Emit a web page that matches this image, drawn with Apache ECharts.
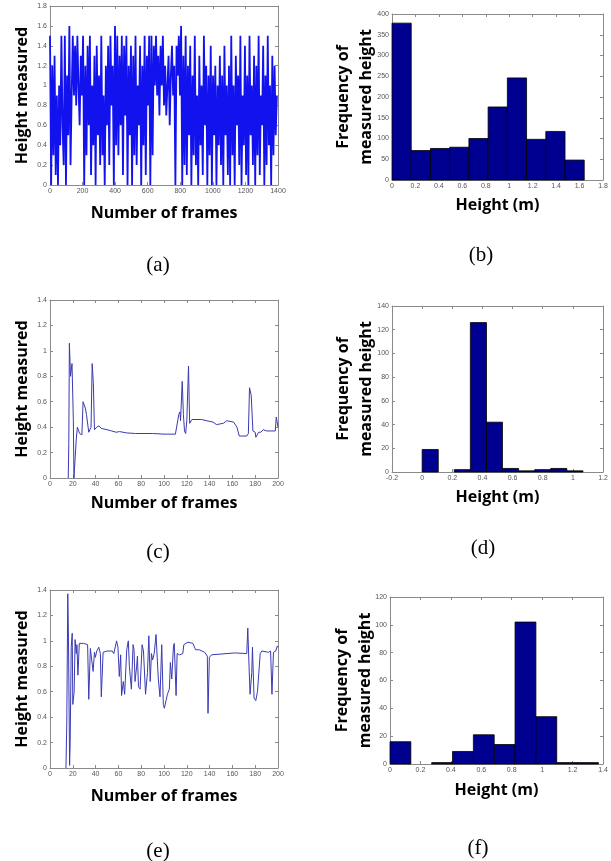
<!DOCTYPE html>
<html>
<head>
<meta charset="utf-8">
<script src="https://cdn.jsdelivr.net/npm/echarts@6/dist/echarts.min.js"></script>
<style>
  html, body { margin: 0; padding: 0; background: #fff; }
  #main { width: 611px; height: 861px; }
</style>
</head>
<body>
<div id="main"></div>
<script>
// (a) height measured over 1400 frames, one reading every stepA frames
const stepA = 7
const heightA = [
  1.5, 0.0, 1.2, 0.3, 1.3, 0.1, 0.9, 0.0, 1.0, 0.4,
  1.5, 0.6, 0.2, 1.5, 0.0, 1.1, 0.5, 1.6, 0.2, 0.9,
  1.5, 0.9, 1.4, 0.8, 1.5, 1.0, 0.6, 1.3, 0.9, 1.5,
  0.0, 1.2, 0.3, 1.4, 0.6, 1.5, 0.1, 1.0, 0.4, 1.3,
  0.0, 1.4, 0.5, 1.1, 0.2, 1.5, 0.3, 0.9, 0.0, 1.2,
  0.6, 1.4, 0.2, 1.5, 0.8, 1.2, 0.0, 1.6, 0.4, 1.5,
  0.3, 1.3, 0.6, 1.5, 0.1, 1.4, 0.7, 1.5, 0.0, 1.2,
  0.5, 1.4, 0.0, 1.3, 0.3, 1.5, 0.2, 1.0, 0.6, 1.4,
  0.0, 1.2, 0.4, 1.5, 0.1, 1.3, 0.8, 1.5, 0.0, 1.5,
  0.3, 1.4, 1.0, 1.5, 0.9, 1.3, 0.7, 1.4, 1.0, 1.5,
  0.8, 1.2, 0.7, 1.0, 1.3, 0.6, 1.1, 1.4, 0.9, 1.2,
  0.0, 1.4, 1.1, 1.5, 0.9, 1.6, 0.0, 1.3, 0.2, 1.5,
  0.1, 1.2, 0.5, 1.4, 0.0, 1.1, 0.3, 1.5, 0.2, 0.9,
  0.0, 1.3, 0.4, 1.0, 0.1, 1.5, 0.6, 1.2, 0.0, 1.1,
  0.3, 1.4, 0.0, 1.1, 0.5, 1.2, 0.0, 1.0, 0.4, 1.3,
  0.2, 1.1, 0.0, 1.4, 0.5, 1.0, 0.1, 1.2, 0.0, 1.5,
  0.3, 1.0, 0.0, 1.3, 0.6, 1.1, 0.2, 1.5, 0.0, 0.9,
  0.4, 1.4, 0.1, 1.1, 0.0, 1.5, 0.5, 1.0, 0.2, 1.3,
  0.0, 1.2, 0.3, 1.5, 0.1, 0.9, 0.6, 1.4, 0.0, 1.1,
  0.2, 1.5, 0.4, 1.0, 0.0, 1.3, 0.3, 1.2, 0.5, 0.9
]

// (b) histogram of (a)
const edgesB = [0, 0.164, 0.328, 0.492, 0.656, 0.82, 0.984, 1.148, 1.312, 1.476, 1.64]
const countsB = [378, 71, 76, 79, 100, 176, 246, 98, 117, 48]

// (c) height measured, 200 frames
const framesC = [16, 16.5, 17, 18, 19.3, 20.5, 21, 22.5, 23, 24, 26, 28, 29, 31, 32, 34, 35, 36, 37, 38,
  39, 41, 43, 45, 50, 54, 58, 61, 67, 75, 90, 100, 110, 113, 114, 114.5, 116, 117, 118, 119,
  120, 121.5, 122.5, 124.5, 133, 137.6, 143, 146, 152, 155, 161, 164, 166, 172.7, 174, 175, 176.5, 178, 180, 180.6,
  183, 185, 187, 190, 197.6, 198.5, 200]
const heightC = [0, 0.27, 1.06, 0.8, 0.9, 0.45, 0, 0, 0.3, 0.4, 0.35, 0.34, 0.6, 0.55, 0.5, 0.36, 0.35, 0.4, 0.9, 0.75,
  0.38, 0.4, 0.41, 0.39, 0.38, 0.37, 0.36, 0.365, 0.355, 0.35, 0.35, 0.345, 0.345, 0.5, 0.52, 0.45, 0.76, 0.5, 0.37, 0.35,
  0.45, 0.88, 0.43, 0.46, 0.46, 0.45, 0.44, 0.42, 0.43, 0.45, 0.44, 0.4, 0.33, 0.33, 0.35, 0.71, 0.65, 0.37, 0.36, 0.32,
  0.36, 0.36, 0.38, 0.37, 0.37, 0.48, 0.4]

// (d) histogram of (c)
const edgesD = [0, 0.107, 0.213, 0.32, 0.427, 0.533, 0.64, 0.747, 0.853, 0.96, 1.067]
const countsD = [19, 0, 2, 126, 42, 3, 1, 2, 3, 1]

// (e) height measured, 200 frames
const framesE = [14, 14.7, 15.6, 16.2, 17.2, 17.7, 18.6, 19.5, 20, 21.2, 22, 23, 23.6, 24.5, 25.7, 26.5, 29.5, 33, 34, 35.4,
  37, 37.8, 39, 39.8, 41, 42.8, 44.2, 45, 46.6, 50, 54.6, 56, 58.4, 59.6, 60.8, 62, 62.8, 64.3, 65.5, 67.3,
  68.7, 69.6, 71.4, 72.9, 73.7, 74.6, 76, 76.7, 77.6, 79, 80.8, 82, 83.8, 85.5, 86.7, 87.9, 89, 90, 91.4, 93,
  93.8, 95, 96.5, 98, 99.4, 100.3, 101.8, 103, 104.7, 105.6, 106.8, 108.3, 109, 110.6, 111.5, 113.6, 116.5, 117.4, 121, 125.4,
  127.7, 131, 135.7, 138, 138.6, 139.8, 141.6, 162, 172.6, 173.5, 174.6, 175.5, 177, 177.6, 179, 180.5, 182, 184.4, 185.8, 191.7,
  193.5, 194.7, 196, 198, 199.4, 200]
const heightE = [0, 0.34, 1.37, 1.03, 0.02, 0.2, 0.95, 1.06, 0.5, 0.6, 1.01, 0.9, 0.97, 0.73, 0.98, 0.99, 0.98, 0.97, 0.54, 0.94,
  0.95, 0.76, 0.91, 0.87, 0.92, 0.95, 0.9, 0.56, 0.91, 0.92, 0.92, 0.9, 1.0, 0.95, 0.72, 0.89, 0.57, 0.68, 0.58, 0.93,
  1.0, 0.8, 0.62, 0.97, 0.93, 0.68, 0.8, 0.88, 0.64, 0.62, 0.97, 0.92, 0.58, 0.75, 1.04, 0.68, 0.9, 0.85, 0.9, 1.05,
  1.04, 0.7, 0.56, 0.97, 0.5, 0.47, 0.53, 0.58, 0.62, 0.83, 0.7, 0.96, 0.98, 0.57, 0.9, 0.89, 0.9, 0.97, 0.99, 0.98,
  0.93, 0.93, 0.91, 0.88, 0.43, 0.87, 0.89, 0.905, 0.9, 1.1, 0.8, 0.58, 0.75, 0.95, 0.55, 0.53, 0.6, 0.9, 0.92, 0.91,
  0.92, 0.58, 0.91, 0.92, 0.96, 0.95]

// (f) histogram of (e)
const edgesF = [0, 0.137, 0.274, 0.411, 0.548, 0.685, 0.822, 0.959, 1.096, 1.233, 1.37]
const countsF = [16, 0, 1, 9, 21, 14, 102, 34, 1, 1]

const panelLabels = ['(a)', '(b)', '(c)', '(d)', '(e)', '(f)']

const axisColor = '#8a8a8a'
const barColor = '#000090'
const titleFont = '"Open Sans", "Noto Sans", sans-serif'

let chart = echarts.init(document.getElementById('main'))

// grids: left column line plots, right column histograms
const grids = [
  { left: 50, top: 6, width: 228, height: 179 },
  { left: 392, top: 14, width: 211, height: 166 },
  { left: 50, top: 300, width: 228, height: 178 },
  { left: 392, top: 306, width: 211, height: 166 },
  { left: 50, top: 590, width: 228, height: 178 },
  { left: 390, top: 597, width: 213, height: 167 }
]

// axis ranges [min, max, interval]
const xRanges = [[0, 1400, 200], [0, 1.8, 0.2], [0, 200, 20], [-0.2, 1.2, 0.2], [0, 200, 20], [0, 1.4, 0.2]]
const yRanges = [[0, 1.8, 0.2], [0, 400, 50], [0, 1.4, 0.2], [0, 140, 20], [0, 1.4, 0.2], [0, 120, 20]]
const xNames = ['Number of frames', 'Height (m)', 'Number of frames', 'Height (m)', 'Number of frames', 'Height (m)']
const yNames = ['Height measured', 'Frequency of\nmeasured height', 'Height measured',
  'Frequency of\nmeasured height', 'Height measured', 'Frequency of\nmeasured height']
const xNameGaps = [20, 17, 17, 17, 20, 18]
const yNameGaps = [16, 14, 16, 14, 16, 13]

function baseAxis(range, gi, position, show) {
  return {
    type: 'value',
    gridIndex: gi,
    position: position,
    min: range[0],
    max: range[1],
    interval: range[2],
    nameMoveOverlap: false,
    splitLine: { show: false },
    axisLine: { show: true, onZero: false, lineStyle: { color: axisColor, width: 1 } },
    axisTick: { show: true, inside: true, length: 3, lineStyle: { color: axisColor } },
    axisLabel: {
      show: show, fontSize: 7, color: '#555', margin: 3, fontFamily: 'Liberation Sans',
      formatter: function (v) { return String(v) }   // no thousands separator
    }
  }
}

let xAxes = []
let yAxes = []
grids.forEach(function (g, i) {
  let xb = baseAxis(xRanges[i], i, 'bottom', true)
  xb.name = xNames[i]
  xb.nameLocation = 'middle'
  xb.nameGap = xNameGaps[i]
  xb.nameTextStyle = { fontSize: 16, fontWeight: 'bold', color: '#000', fontFamily: titleFont }
  xAxes.push(xb)
  xAxes.push(baseAxis(xRanges[i], i, 'top', false))

  let yl = baseAxis(yRanges[i], i, 'left', true)
  yl.name = yNames[i]
  yl.nameLocation = 'middle'
  yl.nameRotate = 90
  yl.nameGap = yNameGaps[i]
  yl.nameTextStyle = { fontSize: 16, fontWeight: 'bold', color: '#000', fontFamily: titleFont, lineHeight: 23 }
  yAxes.push(yl)
  yAxes.push(baseAxis(yRanges[i], i, 'right', false))
})

function histSeries(gi, edges, counts) {
  let data = counts.map(function (c, k) { return [edges[k], edges[k + 1], c] })
  return {
    type: 'custom',
    xAxisIndex: gi * 2,
    yAxisIndex: gi * 2,
    data: data,
    renderItem: function (params, api) {
      if (api.value(2) <= 0) return null
      let p0 = api.coord([api.value(0), api.value(2)])
      let p1 = api.coord([api.value(1), 0])
      return {
        type: 'rect',
        shape: { x: p0[0], y: p0[1], width: p1[0] - p0[0], height: p1[1] - p0[1] },
        style: { fill: barColor, stroke: '#000', lineWidth: 0.8 }
      }
    }
  }
}

function lineSeries(gi, data, color, width) {
  return {
    type: 'line',
    xAxisIndex: gi * 2,
    yAxisIndex: gi * 2,
    data: data,
    showSymbol: false,
    symbol: 'none',
    sampling: null,
    animation: false,
    lineStyle: { color: color, width: width }
  }
}

const dataA = heightA.map(function (v, k) { return [k * stepA, v] })
const dataC = framesC.map(function (f, k) { return [f, heightC[k]] })
const dataE = framesE.map(function (f, k) { return [f, heightE[k]] })

// sub-figure captions
const labelPos = [[158, 265], [481, 255], [158, 552], [483, 548], [158, 851], [478, 848]]
const graphics = panelLabels.map(function (t, k) {
  return {
    type: 'text',
    x: labelPos[k][0],
    y: labelPos[k][1],
    style: {
      text: t, fontSize: 21, fontFamily: 'Liberation Serif', fill: '#000',
      textAlign: 'center', textVerticalAlign: 'middle'
    }
  }
})

const option = {
  animation: false,
  backgroundColor: '#fff',
  grid: grids,
  xAxis: xAxes,
  yAxis: yAxes,
  graphic: graphics,
  series: [
    lineSeries(0, dataA, '#1212ee', 1.8),
    histSeries(1, edgesB, countsB),
    lineSeries(2, dataC, '#3a3ab4', 1),
    histSeries(3, edgesD, countsD),
    lineSeries(4, dataE, '#3a3ab4', 1),
    histSeries(5, edgesF, countsF)
  ]
}
chart.setOption(option)
</script>
</body>
</html>
